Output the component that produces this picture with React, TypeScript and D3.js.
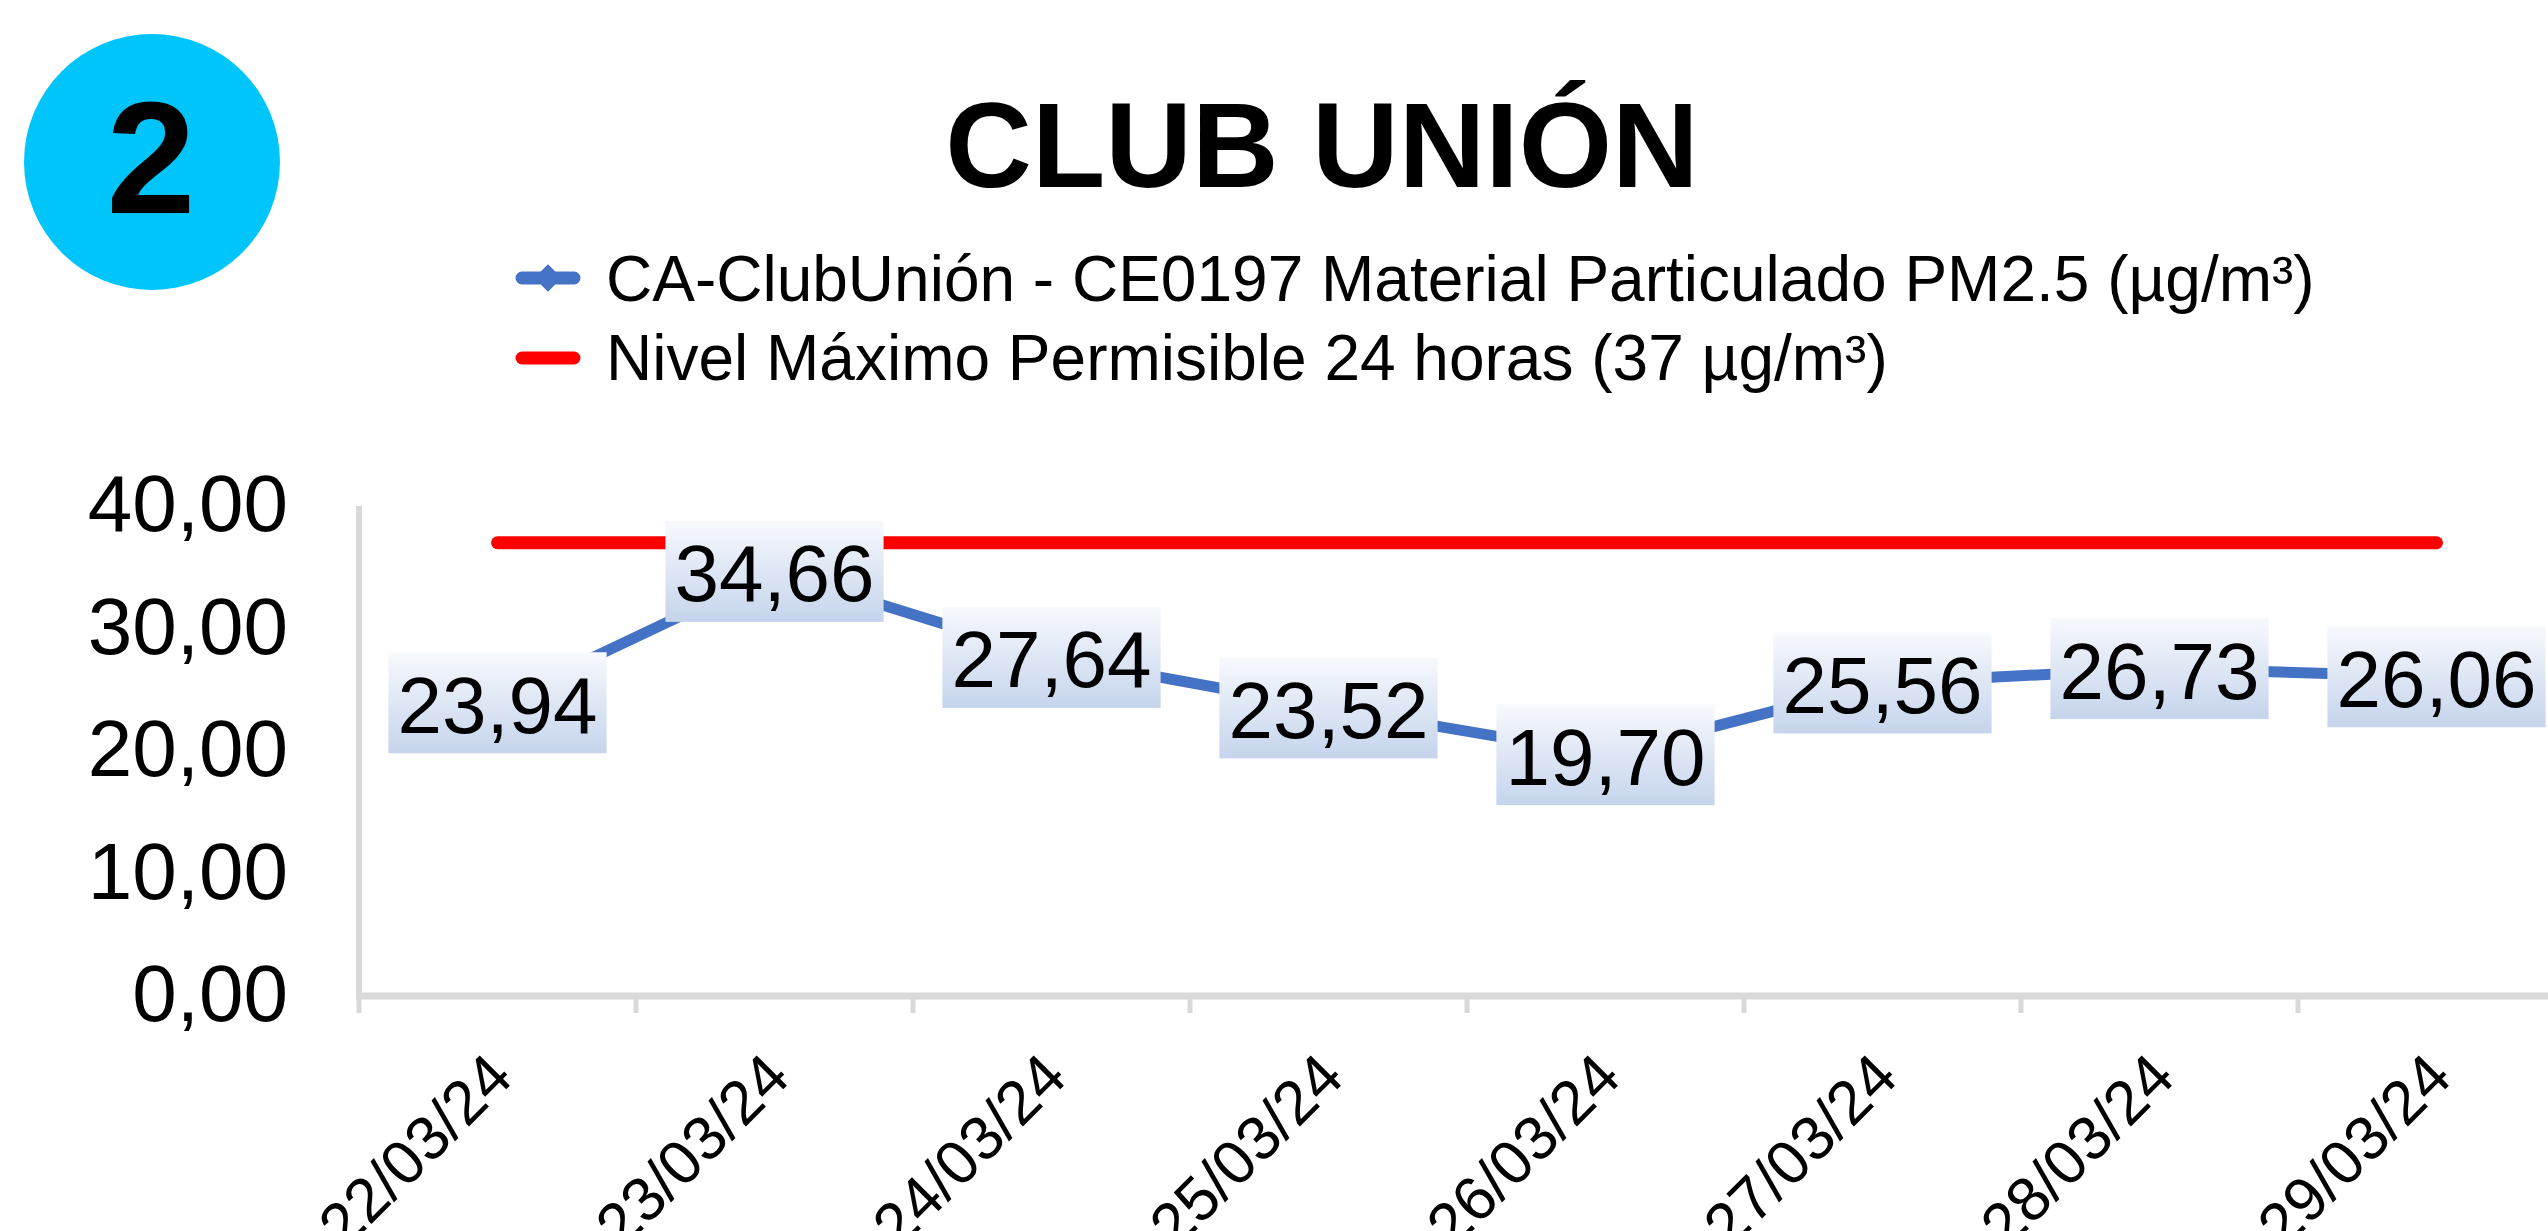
import React, { useEffect, useRef } from "react";
import * as d3 from "d3";

// values
const dates = ["22/03/24", "23/03/24", "24/03/24", "25/03/24", "26/03/24", "27/03/24", "28/03/24", "29/03/24"];
const pm25 = [23.94, 34.66, 27.64, 23.52, 19.70, 25.56, 26.73, 26.06];
const limit37 = [37, 37, 37, 37, 37, 37, 37, 37];
const yTicks = [0, 10, 20, 30, 40];

const seriesName = "CA-ClubUnión - CE0197 Material Particulado PM2.5 (µg/m³)";
const limitName = "Nivel Máximo Permisible 24 horas (37 µg/m³)";
const title = "CLUB UNIÓN";

const W = 2548;
const H = 1231;
const FONT = "'Liberation Sans', Arial, Helvetica, sans-serif";

export default function App() {
  const ref = useRef<SVGSVGElement>(null);

  useEffect(() => {
    const svg = d3.select(ref.current);
    svg.selectAll("*").remove();

    const left = 359, axisY = 996, top = 506, step = 277;

    // band scale, one band per day (the chart runs off the right edge)
    const x = d3.scaleBand().domain(dates).range([left, left + step * dates.length]).padding(0);
    const cx = (d: string) => (x(d) as number) + x.bandwidth() / 2;
    const y = d3.scaleLinear().domain([0, 40]).range([axisY, top]);
    const fmt = (v: number) => d3.format(".2f")(v).replace(".", ",");

    const defs = svg.append("defs");
    const grad = defs.append("linearGradient").attr("id", "lblGrad").attr("x1", 0).attr("y1", 0).attr("x2", 0).attr("y2", 1);
    grad.append("stop").attr("offset", "0%").attr("stop-color", "#f7f9fd");
    grad.append("stop").attr("offset", "100%").attr("stop-color", "#c5d4ec");

    // badge
    svg.append("circle").attr("cx", 152).attr("cy", 162).attr("r", 128).attr("fill", "#00C5FA");
    svg.append("text").attr("x", 151).attr("y", 213).attr("text-anchor", "middle")
      .attr("font-family", FONT).attr("font-weight", "bold").attr("font-size", 160).text("2");

    // title
    svg.append("text").attr("x", 1322).attr("y", 187).attr("text-anchor", "middle")
      .attr("font-family", FONT).attr("font-weight", "bold").attr("font-size", 120).text(title);

    // legend
    const lg = svg.append("g");
    lg.append("line").attr("x1", 522).attr("x2", 574).attr("y1", 278).attr("y2", 278)
      .attr("stroke", "#4472C4").attr("stroke-width", 13).attr("stroke-linecap", "round");
    lg.append("path").attr("d", d3.symbol(d3.symbolSquare, 380)()).attr("transform", "translate(548,278) rotate(45)")
      .attr("fill", "#4472C4");
    lg.append("text").attr("x", 606).attr("y", 301).attr("font-family", FONT).attr("font-size", 64).text(seriesName);
    lg.append("line").attr("x1", 522).attr("x2", 574).attr("y1", 358).attr("y2", 358)
      .attr("stroke", "#FF0000").attr("stroke-width", 13).attr("stroke-linecap", "round");
    lg.append("text").attr("x", 606).attr("y", 380).attr("font-family", FONT).attr("font-size", 64).text(limitName);

    // axes
    svg.append("line").attr("x1", left).attr("x2", left).attr("y1", top).attr("y2", axisY)
      .attr("stroke", "#d9d9d9").attr("stroke-width", 6);
    svg.append("line").attr("x1", left - 3).attr("x2", W).attr("y1", axisY).attr("y2", axisY)
      .attr("stroke", "#d9d9d9").attr("stroke-width", 7);
    svg.selectAll(".xtick").data(dates).join("line").attr("class", "xtick")
      .attr("x1", d => x(d) as number).attr("x2", d => x(d) as number)
      .attr("y1", axisY).attr("y2", axisY + 17)
      .attr("stroke", "#d9d9d9").attr("stroke-width", 5);

    svg.selectAll(".ylab").data(yTicks).join("text").attr("class", "ylab")
      .attr("x", 288).attr("y", d => y(d) + 25).attr("text-anchor", "end")
      .attr("font-family", FONT).attr("font-size", 80).text(d => fmt(d));

    svg.selectAll(".xlab").data(dates).join("text").attr("class", "xlab")
      .attr("transform", d => `translate(${cx(d) + 18},${axisY + 84}) rotate(-45)`)
      .attr("text-anchor", "end").attr("font-family", FONT).attr("font-size", 62).text(d => d);

    // series
    const line = d3.line<number>().x((_, i) => cx(dates[i])).y(v => y(v));
    svg.append("path").attr("d", line(pm25)).attr("fill", "none").attr("stroke", "#4472C4")
      .attr("stroke-width", 11).attr("stroke-linejoin", "round").attr("stroke-linecap", "round");
    svg.selectAll(".mk").data(pm25).join("path").attr("class", "mk")
      .attr("d", d3.symbol(d3.symbolDiamond, 500)())
      .attr("transform", (v, i) => `translate(${cx(dates[i])},${y(v)})`).attr("fill", "#4472C4");
    svg.append("path").attr("d", line(limit37)).attr("fill", "none").attr("stroke", "#FF0000")
      .attr("stroke-width", 13).attr("stroke-linecap", "round");

    // data labels with gradient boxes
    const labels = svg.selectAll(".dl").data(pm25).join("g").attr("class", "dl")
      .attr("transform", (v, i) => `translate(${cx(dates[i])},${y(v)})`);
    const rects = labels.append("rect").attr("fill", "url(#lblGrad)");
    const texts = labels.append("text").attr("y", 30).attr("text-anchor", "middle")
      .attr("font-family", FONT).attr("font-size", 80).text(v => fmt(v));
    texts.each(function (_, i) {
      const w = (this as SVGTextElement).getComputedTextLength() + 18;
      d3.select(rects.nodes()[i]).attr("x", -w / 2).attr("y", -50.5).attr("width", w).attr("height", 101);
    });
  }, []);

  return (
    <svg ref={ref} width={W} height={H} style={{ position: "absolute", left: 0, top: 0, background: "#fff" }} />
  );
}
